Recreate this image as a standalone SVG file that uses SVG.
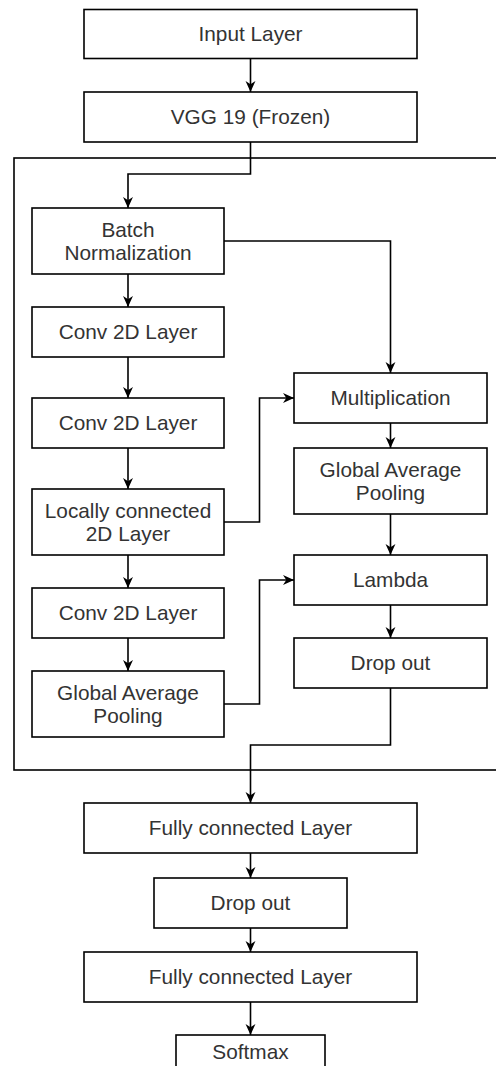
<svg xmlns="http://www.w3.org/2000/svg" width="496" height="1066" viewBox="0 0 496 1066">
<style>
.box{fill:#fff;stroke:#000;stroke-width:1.6}
.frame{fill:none;stroke:#000;stroke-width:1.6}
.lbl{font-family:"Liberation Sans",Arial,sans-serif;font-size:20.8px;fill:#333;text-anchor:middle}
.edge{fill:none;stroke:#000;stroke-width:1.6;marker-end:url(#arr)}
</style>
<defs>
<marker id="arr" viewBox="0 0 10 10" refX="10" refY="5" markerWidth="11" markerHeight="11" markerUnits="userSpaceOnUse" orient="auto">
<path d="M0,0.5 L10,5 L0,9.5 L3,5 Z" fill="#000"/>
</marker>
</defs>
<rect class="frame" x="14" y="158" width="500" height="612"/>
<g id="connectors">
<path class="edge" d="M250.5,58.5 V92"/>
<path class="edge" d="M250.5,142 V174 H128 V208"/>
<path class="edge" d="M128,274 V307"/>
<path class="edge" d="M128,357 V398"/>
<path class="edge" d="M128,448 V489"/>
<path class="edge" d="M128,555 V588"/>
<path class="edge" d="M128,638 V671"/>
<path class="edge" d="M224,241 H390.5 V373"/>
<path class="edge" d="M224,522 H259.5 V398 H294"/>
<path class="edge" d="M390.5,423 V448"/>
<path class="edge" d="M390.5,514 V555"/>
<path class="edge" d="M224,704 H259.5 V580 H294"/>
<path class="edge" d="M390.5,605 V638"/>
<path class="edge" d="M390.5,688 V745 H250.5 V803"/>
<path class="edge" d="M250.5,853 V878"/>
<path class="edge" d="M250.5,928 V952"/>
<path class="edge" d="M250.5,1002 V1035"/>
</g>
<g id="input"><rect class="box" x="84" y="9.5" width="333" height="49"/><text class="lbl" x="250.5" y="41.3">Input Layer</text></g>
<g id="vgg"><rect class="box" x="84" y="92" width="333" height="50"/><text class="lbl" x="250.5" y="124.3">VGG 19 (Frozen)</text></g>
<g id="batchnorm"><rect class="box" x="32" y="208" width="192" height="66"/><text class="lbl" x="128" y="237.3">Batch</text><text class="lbl" x="128" y="260.3">Normalization</text></g>
<g id="conv1"><rect class="box" x="32" y="307" width="192" height="50"/><text class="lbl" x="128" y="339.3">Conv 2D Layer</text></g>
<g id="conv2"><rect class="box" x="32" y="398" width="192" height="50"/><text class="lbl" x="128" y="430.3">Conv 2D Layer</text></g>
<g id="local"><rect class="box" x="32" y="489" width="192" height="66"/><text class="lbl" x="128" y="518.3">Locally connected</text><text class="lbl" x="128" y="541.3">2D Layer</text></g>
<g id="conv3"><rect class="box" x="32" y="588" width="192" height="50"/><text class="lbl" x="128" y="620.3">Conv 2D Layer</text></g>
<g id="gap-left"><rect class="box" x="32" y="671" width="192" height="66"/><text class="lbl" x="128" y="700.3">Global Average</text><text class="lbl" x="128" y="723.3">Pooling</text></g>
<g id="mult"><rect class="box" x="294" y="373" width="193" height="50"/><text class="lbl" x="390.5" y="405.3">Multiplication</text></g>
<g id="gap-right"><rect class="box" x="294" y="448" width="193" height="66"/><text class="lbl" x="390.5" y="477.3">Global Average</text><text class="lbl" x="390.5" y="500.3">Pooling</text></g>
<g id="lambda"><rect class="box" x="294" y="555" width="193" height="50"/><text class="lbl" x="390.5" y="587.3">Lambda</text></g>
<g id="dropout-right"><rect class="box" x="294" y="638" width="193" height="50"/><text class="lbl" x="390.5" y="670.3">Drop out</text></g>
<g id="fc1"><rect class="box" x="84" y="803" width="333" height="50"/><text class="lbl" x="250.5" y="835.3">Fully connected Layer</text></g>
<g id="dropout"><rect class="box" x="154" y="878" width="193" height="50"/><text class="lbl" x="250.5" y="910.3">Drop out</text></g>
<g id="fc2"><rect class="box" x="84" y="952" width="333" height="50"/><text class="lbl" x="250.5" y="984.3">Fully connected Layer</text></g>
<g id="softmax"><rect class="box" x="176" y="1035" width="149" height="50"/><text class="lbl" x="250.5" y="1059">Softmax</text></g>
</svg>
